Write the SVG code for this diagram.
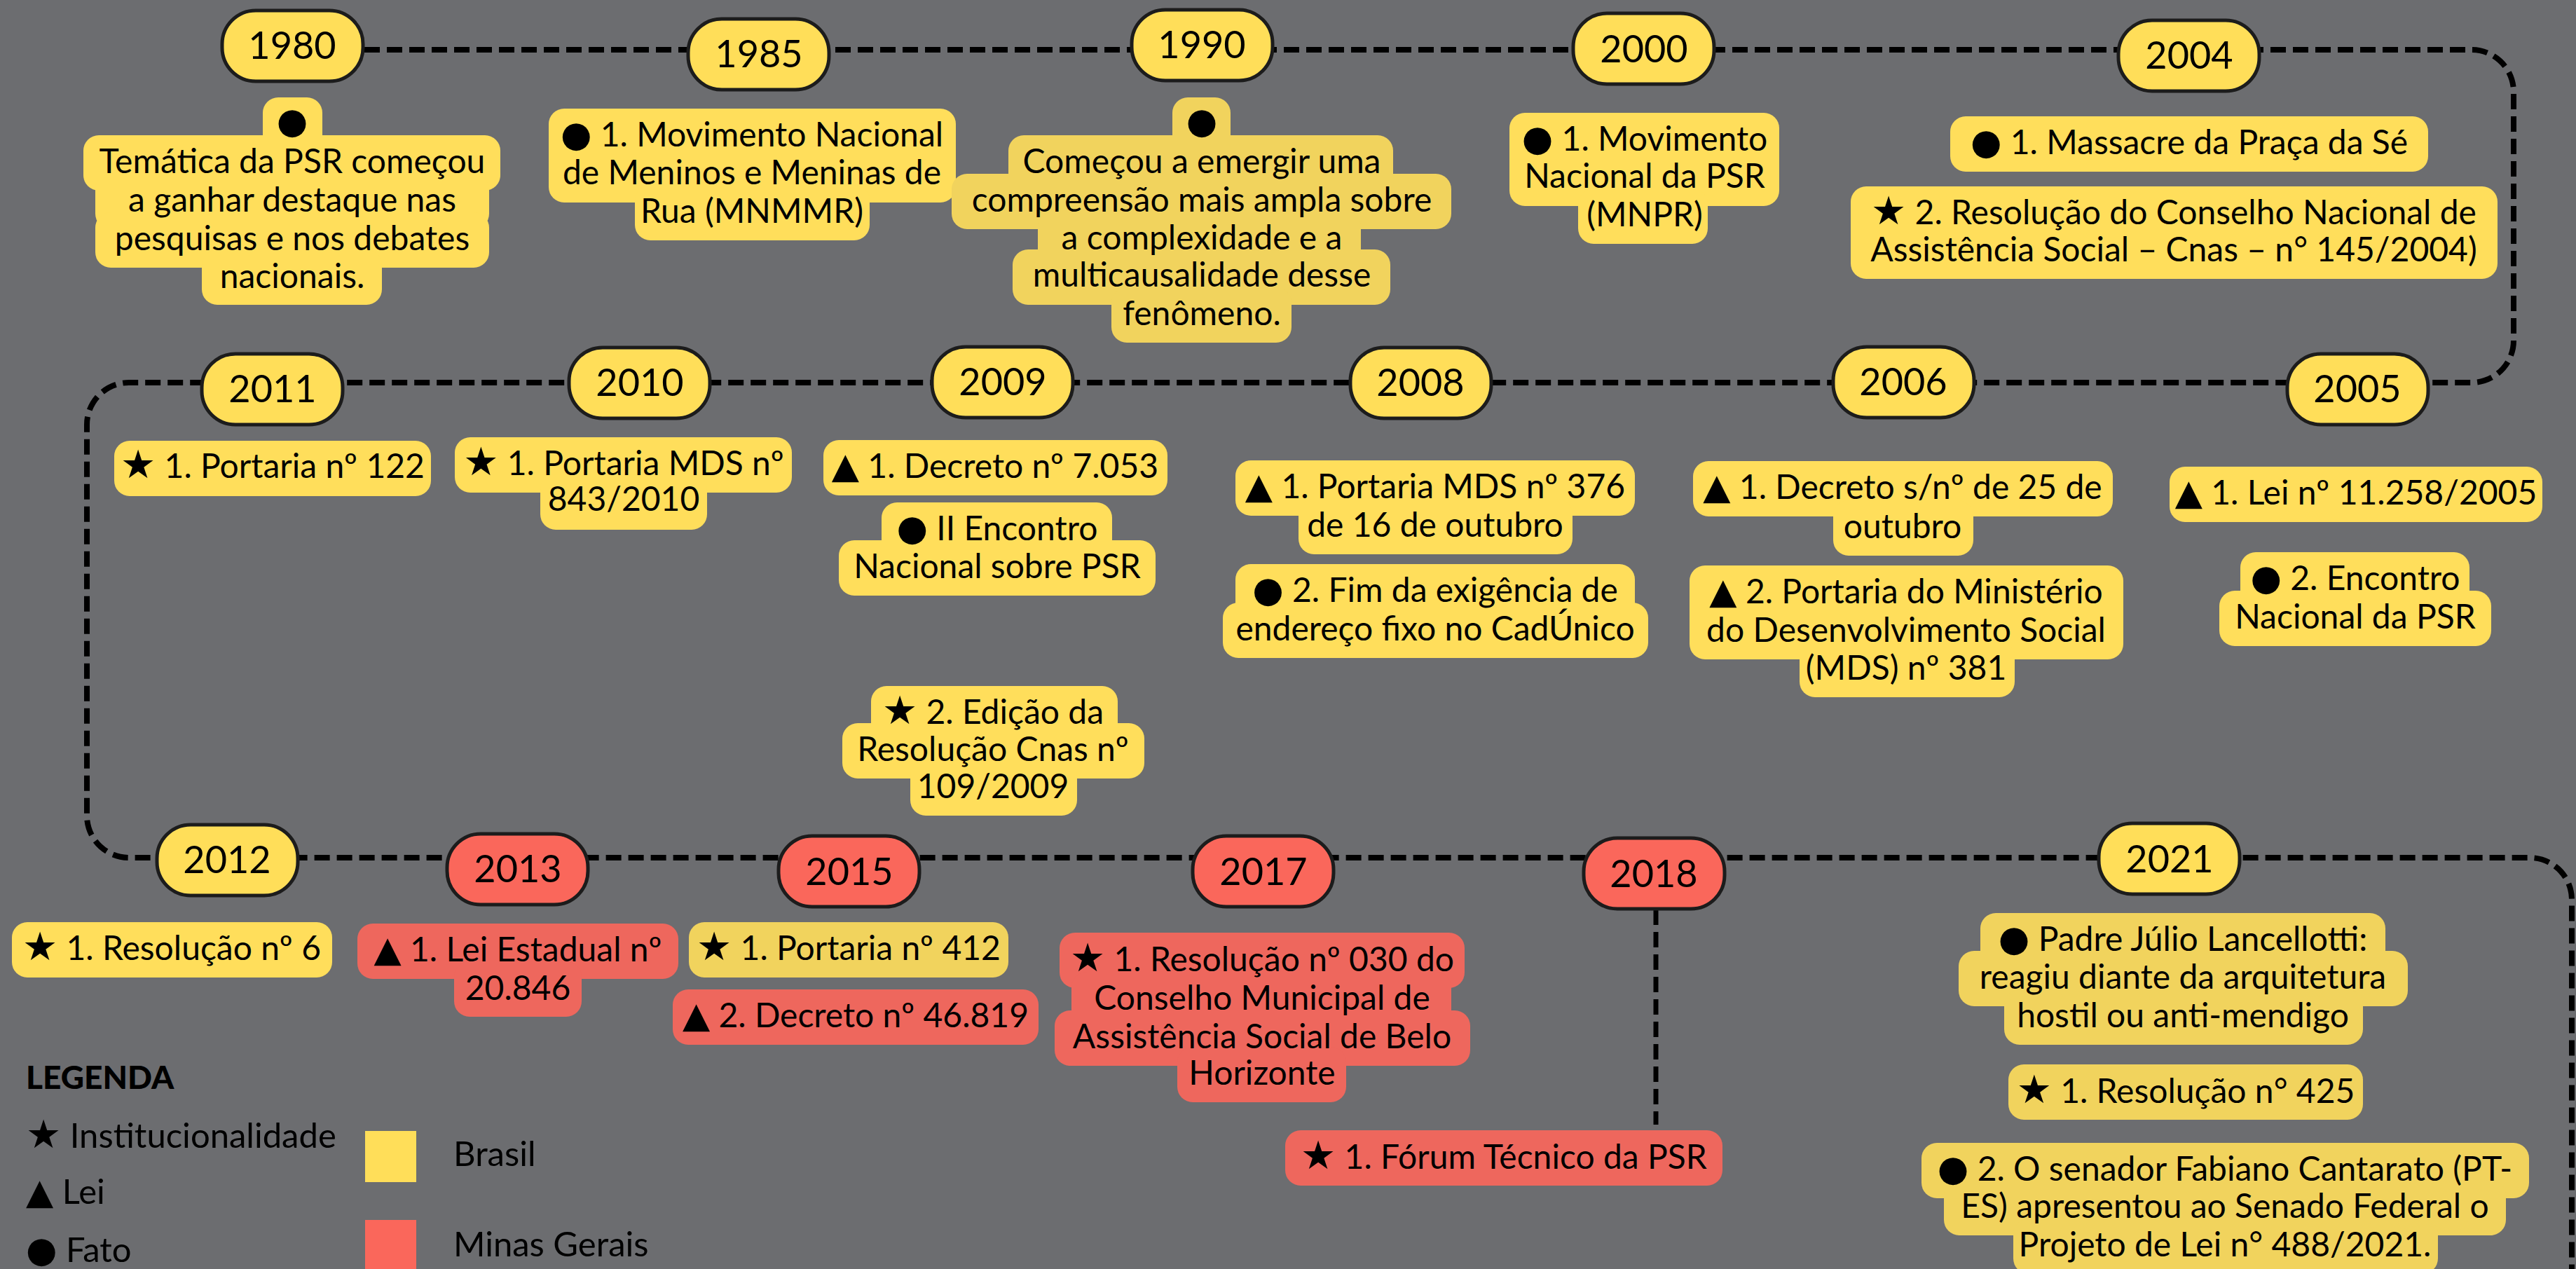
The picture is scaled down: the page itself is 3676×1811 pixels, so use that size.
<svg xmlns="http://www.w3.org/2000/svg" width="3676" height="1811" viewBox="0 0 3676 1811">
<style>
.pill{stroke:#1c1c1c;stroke-width:5}
.py{fill:#ffde59}
.pr{fill:#fa675b}
.by{fill:#ffde5b}
.bd{fill:#f1d35d}
.br{fill:#ee675d}
.yr{font-family:Lato,"Liberation Sans",sans-serif;font-size:54px;fill:#000;text-anchor:middle}
.t{font-family:Lato,"Liberation Sans",sans-serif;font-size:48px;fill:#000;text-anchor:middle}
.s{font-family:"DejaVu Sans",sans-serif;font-size:51px}
.st{font-family:"DejaVu Sans",sans-serif;font-size:56px}
.lg{font-family:Lato,"Liberation Sans",sans-serif;font-size:49px;fill:#000}
.dash{fill:none;stroke:#000;stroke-width:8;stroke-dasharray:22 10}
</style>
<rect width="3676" height="1811" fill="#6c6d70"/>
<g id="connectors">
<path class="dash" d="M520 71 H3527 A60 60 0 0 1 3587 131 V486 A60 60 0 0 1 3527 546 H184 A60 60 0 0 0 124 606 V1164 A60 60 0 0 0 184 1224 H3610 A60 60 0 0 1 3670 1284 V1811"/>
<path class="dash" d="M2363 1298 V1605" style="stroke-width:7"/>
</g>
<g id="y1980"><rect class="pill py" x="317" y="15" width="201" height="101" rx="48"/><text class="yr" x="417" y="84">1980</text></g>
<g id="y1985"><rect class="pill py" x="982" y="27" width="201" height="101" rx="48"/><text class="yr" x="1083" y="96">1985</text></g>
<g id="y1990"><rect class="pill py" x="1615" y="14" width="201" height="101" rx="48"/><text class="yr" x="1715" y="83">1990</text></g>
<g id="y2000"><rect class="pill py" x="2245" y="19" width="201" height="101" rx="48"/><text class="yr" x="2346" y="89">2000</text></g>
<g id="y2004"><rect class="pill py" x="3023" y="29" width="201" height="101" rx="48"/><text class="yr" x="3124" y="98">2004</text></g>
<g id="y2005"><rect class="pill py" x="3264" y="505" width="201" height="101" rx="48"/><text class="yr" x="3364" y="574">2005</text></g>
<g id="y2006"><rect class="pill py" x="2616" y="495" width="201" height="101" rx="48"/><text class="yr" x="2716" y="564">2006</text></g>
<g id="y2008"><rect class="pill py" x="1927" y="496" width="201" height="101" rx="48"/><text class="yr" x="2027" y="565">2008</text></g>
<g id="y2009"><rect class="pill py" x="1330" y="495" width="201" height="101" rx="48"/><text class="yr" x="1431" y="564">2009</text></g>
<g id="y2010"><rect class="pill py" x="812" y="496" width="201" height="101" rx="48"/><text class="yr" x="913" y="565">2010</text></g>
<g id="y2011"><rect class="pill py" x="288" y="505" width="201" height="101" rx="48"/><text class="yr" x="389" y="574">2011</text></g>
<g id="y2012"><rect class="pill py" x="224" y="1177" width="201" height="101" rx="48"/><text class="yr" x="324" y="1246">2012</text></g>
<g id="y2013"><rect class="pill pr" x="638" y="1190" width="201" height="101" rx="48"/><text class="yr" x="739" y="1259">2013</text></g>
<g id="y2015"><rect class="pill pr" x="1111" y="1193" width="201" height="101" rx="48"/><text class="yr" x="1212" y="1263">2015</text></g>
<g id="y2017"><rect class="pill pr" x="1702" y="1193" width="201" height="101" rx="48"/><text class="yr" x="1803" y="1263">2017</text></g>
<g id="y2018"><rect class="pill pr" x="2260" y="1196" width="201" height="101" rx="48"/><text class="yr" x="2360" y="1266">2018</text></g>
<g id="y2021"><rect class="pill py" x="2995" y="1175" width="201" height="101" rx="48"/><text class="yr" x="3096" y="1245">2021</text></g>

<g id="e1980" class="by">
<rect x="375" y="139" width="85" height="79" rx="22"/>
<rect x="119" y="193" width="595" height="79" rx="22"/>
<rect x="136" y="248" width="562" height="79" rx="22"/>
<rect x="136" y="303" width="562" height="79" rx="22"/>
<rect x="288" y="356" width="257" height="79" rx="22"/>
<text class="t s" x="417" y="190">●</text>
<text class="t"><tspan x="417" y="247">Temática da PSR começou</tspan><tspan x="417" y="302">a ganhar destaque nas</tspan><tspan x="417" y="357">pesquisas e nos debates</tspan><tspan x="417" y="411">nacionais.</tspan></text>
</g>
<g id="e1985" class="by">
<rect x="783" y="155" width="581" height="134" rx="22"/>
<rect x="906" y="264" width="335" height="79" rx="22"/>
<text class="t"><tspan x="1073" y="209"><tspan class="s">●</tspan> 1. Movimento Nacional</tspan><tspan x="1073" y="263">de Meninos e Meninas de</tspan><tspan x="1073" y="318">Rua (MNMMR)</tspan></text>
</g>
<g id="e1990" class="bd">
<rect x="1673" y="139" width="83" height="79" rx="22"/>
<rect x="1439" y="193" width="549" height="79" rx="22"/>
<rect x="1358" y="248" width="713" height="79" rx="22"/>
<rect x="1481" y="302" width="461" height="79" rx="22"/>
<rect x="1445" y="356" width="539" height="79" rx="22"/>
<rect x="1586" y="410" width="257" height="79" rx="22"/>
<text class="t s" x="1715" y="190">●</text>
<text class="t"><tspan x="1715" y="247">Começou a emergir uma</tspan><tspan x="1715" y="302">compreensão mais ampla sobre</tspan><tspan x="1715" y="356">a complexidade e a</tspan><tspan x="1715" y="409">multicausalidade desse</tspan><tspan x="1715" y="464">fenômeno.</tspan></text>
</g>
<g id="e2000" class="by">
<rect x="2154" y="161" width="385" height="133" rx="22"/>
<rect x="2252" y="269" width="185" height="79" rx="22"/>
<text class="t"><tspan x="2347" y="215"><tspan class="s">●</tspan> 1. Movimento</tspan><tspan x="2347" y="268">Nacional da PSR</tspan><tspan x="2347" y="323">(MNPR)</tspan></text>
</g>
<g id="e2004a" class="by">
<rect x="2783" y="166" width="682" height="79" rx="22"/>
<text class="t" x="3124" y="220"><tspan class="s">●</tspan> 1. Massacre da Praça da Sé</text>
</g>
<g id="e2004b" class="by">
<rect x="2641" y="266" width="923" height="132" rx="22"/>
<text class="t"><tspan x="3102" y="320"><tspan class="st">★</tspan> 2. Resolução do Conselho Nacional de</tspan><tspan x="3102" y="373">Assistência Social – Cnas – n° 145/2004)</tspan></text>
</g>

<g id="e2005a" class="by">
<rect x="3096" y="666" width="532" height="79" rx="22"/>
<text class="t" x="3362" y="720"><tspan class="s">▲</tspan> 1. Lei nº 11.258/2005</text>
</g>
<g id="e2005b" class="by">
<rect x="3197" y="788" width="327" height="79" rx="22"/>
<rect x="3167" y="843" width="388" height="79" rx="22"/>
<text class="t"><tspan x="3361" y="842"><tspan class="s">●</tspan> 2. Encontro</tspan><tspan x="3361" y="897">Nacional da PSR</tspan></text>
</g>
<g id="e2006a" class="by">
<rect x="2416" y="658" width="599" height="79" rx="22"/>
<rect x="2616" y="714" width="200" height="79" rx="22"/>
<text class="t"><tspan x="2715" y="712"><tspan class="s">▲</tspan> 1. Decreto s/nº de 25 de</tspan><tspan x="2715" y="768">outubro</tspan></text>
</g>
<g id="e2006b" class="by">
<rect x="2411" y="807" width="619" height="134" rx="22"/>
<rect x="2568" y="916" width="307" height="79" rx="22"/>
<text class="t"><tspan x="2720" y="861"><tspan class="s">▲</tspan>  2. Portaria do Ministério</tspan><tspan x="2720" y="916">do Desenvolvimento Social</tspan><tspan x="2720" y="970">(MDS) nº 381</tspan></text>
</g>
<g id="e2008a" class="by">
<rect x="1763" y="657" width="570" height="79" rx="22"/>
<rect x="1853" y="712" width="391" height="79" rx="22"/>
<text class="t"><tspan x="2048" y="711"><tspan class="s">▲</tspan> 1. Portaria MDS nº 376</tspan><tspan x="2048" y="766">de 16 de outubro</tspan></text>
</g>
<g id="e2008b" class="by">
<rect x="1763" y="805" width="570" height="79" rx="22"/>
<rect x="1745" y="860" width="607" height="79" rx="22"/>
<text class="t"><tspan x="2048" y="859"><tspan class="s">●</tspan> 2. Fim da exigência de</tspan><tspan x="2048" y="914">endereço fixo no CadÚnico</tspan></text>
</g>
<g id="e2009a" class="by">
<rect x="1175" y="628" width="491" height="79" rx="22"/>
<text class="t" x="1420" y="682"><tspan class="s">▲</tspan> 1. Decreto nº 7.053</text>
</g>
<g id="e2009b" class="by">
<rect x="1258" y="717" width="329" height="79" rx="22"/>
<rect x="1197" y="771" width="452" height="79" rx="22"/>
<text class="t"><tspan x="1423" y="771"><tspan class="s">●</tspan> II Encontro</tspan><tspan x="1423" y="825">Nacional sobre PSR</tspan></text>
</g>
<g id="e2009c" class="by">
<rect x="1243" y="979" width="352" height="79" rx="22"/>
<rect x="1202" y="1032" width="431" height="79" rx="22"/>
<rect x="1299" y="1085" width="238" height="79" rx="22"/>
<text class="t"><tspan x="1417" y="1033"><tspan class="st">★</tspan> 2. Edição da</tspan><tspan x="1417" y="1086">Resolução Cnas nº</tspan><tspan x="1417" y="1139">109/2009</tspan></text>
</g>
<g id="e2010" class="by">
<rect x="649" y="624" width="481" height="79" rx="22"/>
<rect x="771" y="677" width="238" height="79" rx="22"/>
<text class="t"><tspan x="890" y="678"><tspan class="st">★</tspan> 1. Portaria MDS nº</tspan><tspan x="890" y="729">843/2010</tspan></text>
</g>
<g id="e2011" class="by">
<rect x="163" y="629" width="452" height="79" rx="22"/>
<text class="t" x="389" y="682"><tspan class="st">★</tspan> 1. Portaria nº 122</text>
</g>

<g id="e2012" class="by">
<rect x="17" y="1316" width="457" height="79" rx="22"/>
<text class="t" x="245" y="1370"><tspan class="st">★</tspan> 1. Resolução nº 6</text>
</g>
<g id="e2013" class="br">
<rect x="510" y="1318" width="458" height="79" rx="22"/>
<rect x="648" y="1372" width="182" height="79" rx="22"/>
<text class="t"><tspan x="739" y="1372"><tspan class="s">▲</tspan> 1. Lei Estadual nº</tspan><tspan x="739" y="1427">20.846</tspan></text>
</g>
<g id="e2015a" class="bd">
<rect x="983" y="1316" width="456" height="79" rx="22"/>
<text class="t" x="1211" y="1370"><tspan class="st">★</tspan> 1. Portaria nº 412</text>
</g>
<g id="e2015b" class="br">
<rect x="960" y="1412" width="522" height="79" rx="22"/>
<text class="t" x="1221" y="1466"><tspan class="s">▲</tspan> 2. Decreto nº 46.819</text>
</g>
<g id="e2017" class="br">
<rect x="1512" y="1331" width="578" height="79" rx="22"/>
<rect x="1529" y="1387" width="542" height="79" rx="22"/>
<rect x="1505" y="1442" width="593" height="79" rx="22"/>
<rect x="1680" y="1494" width="241" height="79" rx="22"/>
<text class="t"><tspan x="1801" y="1386"><tspan class="st">★</tspan> 1. Resolução nº 030 do</tspan><tspan x="1801" y="1441">Conselho Municipal de</tspan><tspan x="1801" y="1496">Assistência Social de Belo</tspan><tspan x="1801" y="1548">Horizonte</tspan></text>
</g>
<g id="e2018" class="br">
<rect x="1834" y="1613" width="624" height="79" rx="22"/>
<text class="t" x="2146" y="1668"><tspan class="st">★</tspan> 1. Fórum Técnico da PSR</text>
</g>
<g id="e2021a" class="bd">
<rect x="2826" y="1303" width="578" height="79" rx="22"/>
<rect x="2795" y="1357" width="641" height="79" rx="22"/>
<rect x="2860" y="1412" width="512" height="79" rx="22"/>
<text class="t"><tspan x="3115" y="1357"><tspan class="s">●</tspan> Padre Júlio Lancellotti:</tspan><tspan x="3115" y="1411">reagiu diante da arquitetura</tspan><tspan x="3115" y="1466">hostil ou anti-mendigo</tspan></text>
</g>
<g id="e2021b" class="bd">
<rect x="2866" y="1519" width="506" height="79" rx="22"/>
<text class="t" x="3119" y="1574"><tspan class="st">★</tspan> 1. Resolução n° 425</text>
</g>
<g id="e2021c" class="bd">
<rect x="2742" y="1631" width="867" height="79" rx="22"/>
<rect x="2774" y="1684" width="802" height="79" rx="22"/>
<rect x="2873" y="1739" width="606" height="79" rx="22"/>
<text class="t"><tspan x="3175" y="1685"><tspan class="s">●</tspan> 2. O senador Fabiano Cantarato (PT-</tspan><tspan x="3175" y="1738">ES) apresentou ao Senado Federal o</tspan><tspan x="3175" y="1793">Projeto de Lei n° 488/2021.</tspan></text>
</g>

<g id="legend">
<text class="lg" x="37" y="1554" style="font-weight:900;font-size:46px">LEGENDA</text>
<text class="lg" x="37" y="1638"><tspan class="st">★</tspan> Institucionalidade</text>
<text class="lg" x="37" y="1718"><tspan class="s">▲</tspan> Lei</text>
<text class="lg" x="37" y="1801"><tspan class="s">●</tspan> Fato</text>
<rect x="521" y="1614" width="73" height="73" fill="#ffde59"/>
<rect x="521" y="1741" width="73" height="73" fill="#fa675b"/>
<text class="lg" x="647" y="1664">Brasil</text>
<text class="lg" x="647" y="1793">Minas Gerais</text>
</g>
</svg>
